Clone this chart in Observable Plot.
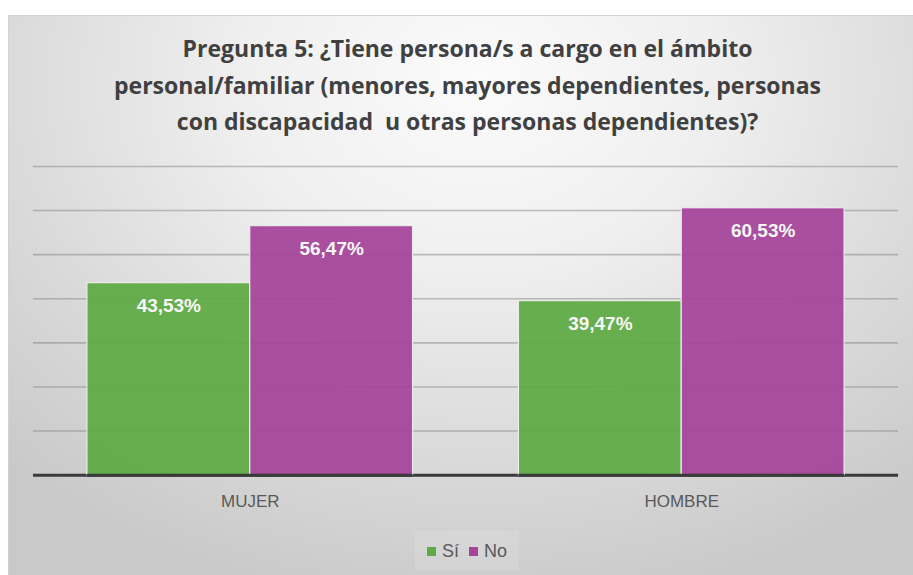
<!DOCTYPE html>
<html>
<head>
<meta charset="utf-8">
<script src="https://cdn.jsdelivr.net/npm/d3@7"></script>
<script src="https://cdn.jsdelivr.net/npm/@observablehq/plot@0.6"></script>
<style>
  html, body { margin: 0; padding: 0; background: #ffffff; }
  body { width: 913px; height: 575px; position: relative; overflow: hidden; }
  #frame {
    position: absolute; left: 8px; top: 15px; width: 905px; height: 560px;
    border-top: 1px solid #d2d2d2; border-left: 1px solid #d2d2d2;
    background: radial-gradient(ellipse 75% 95% at 52% 12%, #fbfbfb 0%, #efefef 35%, #dadada 70%, #c9c9c9 100%);
    box-sizing: border-box;
  }
  #title {
    position: absolute; top: 14px; left: 0; width: 100%; padding-left: 13px; box-sizing: border-box;
    text-align: center; font-family: "Open Sans", Roboto, sans-serif; font-weight: 700;
    font-size: 23px; line-height: 36.5px; color: #404040;
  }
  .layer { position: absolute; top: 124px; left: 0; }
  #legend {
    position: absolute; top: 515px; left: 406px; width: 104px; height: 40px;
    display: flex; align-items: center; justify-content: center; gap: 10px;
    font-family: "Liberation Sans", Arial, sans-serif; font-size: 18px; color: #595959;
    background: rgba(255,255,255,0.12);
  }
  #legend .item { display: flex; align-items: center; gap: 6px; }
  #legend .sw { width: 9px; height: 9px; display: inline-block; }
</style>
</head>
<body>
<div id="frame">
  <div id="title">Pregunta 5: ¿Tiene persona/s a cargo en el ámbito<br>personal/familiar (menores, mayores dependientes, personas<br>con discapacidad&nbsp; u otras personas dependientes)?</div>
  <div id="grid" class="layer"></div>
  <div id="chart" class="layer"></div>
  <div id="legend"></div>
</div>
<script>
const categories = ["MUJER", "HOMBRE"];
const series = ["Sí", "No"];
const valuesSi = [43.53, 39.47];
const valuesNo = [56.47, 60.53];
const yTicks = [10, 20, 30, 40, 50, 60, 70];
const colors = ["#5faa45", "#a6449b"];

const data = [];
categories.forEach((c, i) => {
  data.push({cat: c, serie: "Sí", value: valuesSi[i]});
  data.push({cat: c, serie: "No", value: valuesNo[i]});
});
const fmt = v => v.toFixed(2).replace(".", ",") + "%";

const common = {
  width: 905,
  height: 380,
  marginLeft: 24,
  marginRight: 15,
  marginTop: 26,
  marginBottom: 45,
  style: {background: "transparent", overflow: "visible"},
  y: {domain: [0, 70], axis: null}
};

// background layer: full-width gridlines and baseline
const gridPlot = Plot.plot({
  ...common,
  marks: [
    Plot.ruleY(yTicks, {stroke: "#7a7a7a", strokeOpacity: 0.45, strokeWidth: 1.6}),
    Plot.ruleY([0], {stroke: "#3a3a3a", strokeWidth: 3})
  ]
});
document.getElementById("grid").appendChild(gridPlot);

// foreground layer: grouped bars
const plot = Plot.plot({
  ...common,
  fx: {domain: categories, paddingInner: 0.246, paddingOuter: 0.124, label: null},
  x: {domain: series, padding: 0, axis: null},
  color: {domain: series, range: colors},
  marks: [
    Plot.barY(data, {fx: "cat", x: "serie", y: "value", fill: "serie", fillOpacity: 0.94, stroke: "#ececec", strokeWidth: 1.2}),
    Plot.ruleY([0], {stroke: "#3a3a3a", strokeWidth: 3}),
    Plot.text(data, {fx: "cat", x: "serie", y: "value", text: d => fmt(d.value), dy: 23, fill: "#f7f7f7",
      fontSize: 19, fontWeight: "bold", fontFamily: "Liberation Sans, Arial, sans-serif"}),
    Plot.axisFx({anchor: "bottom", tickSize: 0, tickPadding: 20, fontSize: 17, fill: "#595959",
      fontFamily: "Liberation Sans, Arial, sans-serif", label: null})
  ]
});
document.getElementById("chart").appendChild(plot);

const legend = document.getElementById("legend");
series.forEach((s, i) => {
  const item = document.createElement("span");
  item.className = "item";
  const sw = document.createElement("span");
  sw.className = "sw";
  sw.style.background = colors[i];
  const t = document.createElement("span");
  t.textContent = s;
  item.appendChild(sw);
  item.appendChild(t);
  legend.appendChild(item);
});
</script>
</body>
</html>
